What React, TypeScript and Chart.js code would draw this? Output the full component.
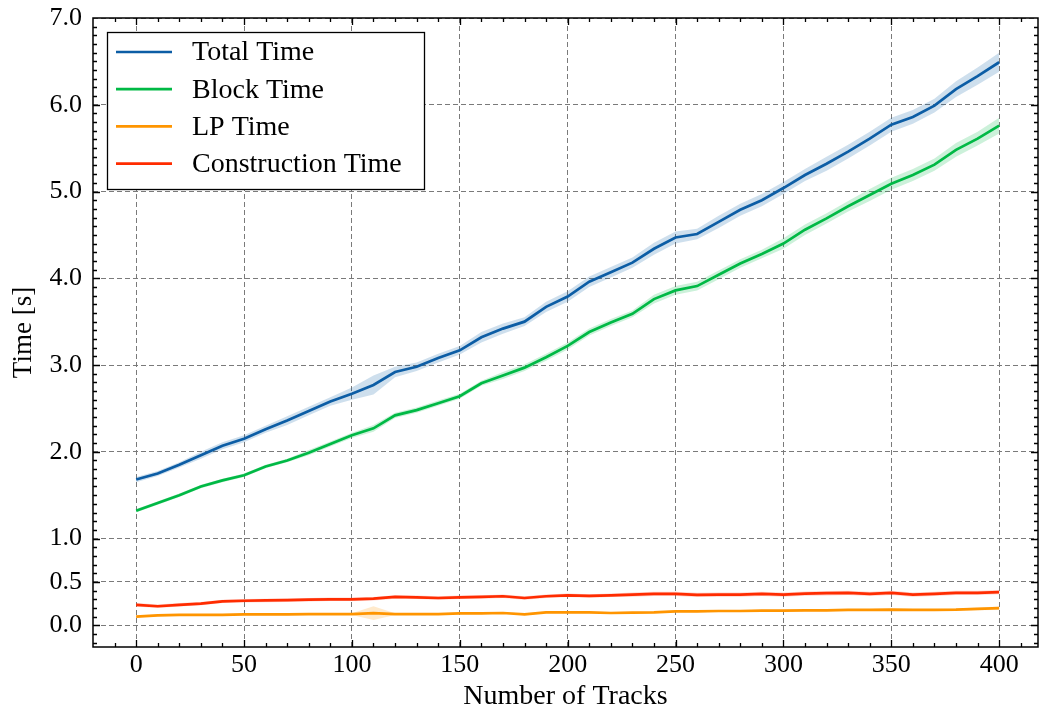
import React, { useEffect, useRef } from "react";
import { Chart, registerables } from "chart.js";

Chart.register(...registerables);

const tracks = [0, 10, 20, 30, 40, 50, 60, 70, 80, 90, 100, 110, 120, 130, 140, 150, 160, 170, 180, 190, 200, 210, 220, 230, 240, 250, 260, 270, 280, 290, 300, 310, 320, 330, 340, 350, 360, 370, 380, 390, 400];

const totalTime = [1.68, 1.75, 1.85, 1.96, 2.07, 2.15, 2.26, 2.36, 2.47, 2.58, 2.67, 2.77, 2.92, 2.98, 3.08, 3.17, 3.32, 3.42, 3.5, 3.67, 3.79, 3.96, 4.07, 4.18, 4.34, 4.47, 4.51, 4.65, 4.79, 4.9, 5.04, 5.19, 5.32, 5.46, 5.61, 5.77, 5.86, 5.99, 6.18, 6.33, 6.49];
const totalStd = [0.03, 0.03, 0.03, 0.04, 0.04, 0.04, 0.04, 0.05, 0.05, 0.05, 0.07, 0.11, 0.06, 0.05, 0.05, 0.05, 0.06, 0.06, 0.05, 0.06, 0.06, 0.06, 0.06, 0.06, 0.07, 0.07, 0.06, 0.07, 0.07, 0.07, 0.07, 0.07, 0.08, 0.08, 0.08, 0.08, 0.08, 0.08, 0.09, 0.1, 0.11];

const blockTime = [1.32, 1.41, 1.5, 1.6, 1.67, 1.73, 1.83, 1.9, 1.99, 2.09, 2.19, 2.27, 2.42, 2.48, 2.56, 2.64, 2.79, 2.88, 2.97, 3.09, 3.22, 3.38, 3.49, 3.59, 3.76, 3.86, 3.91, 4.04, 4.17, 4.28, 4.4, 4.56, 4.69, 4.83, 4.96, 5.09, 5.19, 5.31, 5.48, 5.61, 5.76];
const blockStd = [0.02, 0.02, 0.02, 0.02, 0.02, 0.02, 0.02, 0.02, 0.03, 0.03, 0.03, 0.04, 0.03, 0.03, 0.03, 0.03, 0.03, 0.04, 0.04, 0.04, 0.04, 0.04, 0.04, 0.04, 0.05, 0.05, 0.05, 0.05, 0.05, 0.05, 0.06, 0.06, 0.06, 0.06, 0.07, 0.07, 0.07, 0.07, 0.08, 0.08, 0.09];

const lpTime = [0.1, 0.115, 0.12, 0.12, 0.12, 0.125, 0.125, 0.125, 0.13, 0.13, 0.13, 0.14, 0.13, 0.13, 0.13, 0.138, 0.138, 0.142, 0.126, 0.15, 0.15, 0.15, 0.142, 0.146, 0.15, 0.16, 0.16, 0.165, 0.165, 0.169, 0.169, 0.173, 0.173, 0.177, 0.177, 0.181, 0.179, 0.179, 0.181, 0.189, 0.197];
const lpStd = [0.01, 0.01, 0.01, 0.01, 0.01, 0.01, 0.01, 0.01, 0.01, 0.01, 0.01, 0.08, 0.01, 0.01, 0.01, 0.01, 0.01, 0.01, 0.01, 0.01, 0.01, 0.01, 0.01, 0.01, 0.01, 0.01, 0.01, 0.01, 0.01, 0.01, 0.01, 0.01, 0.01, 0.01, 0.01, 0.01, 0.01, 0.01, 0.012, 0.015, 0.02];

const constructionTime = [0.236, 0.22, 0.236, 0.25, 0.276, 0.283, 0.287, 0.29, 0.295, 0.3, 0.3, 0.307, 0.327, 0.323, 0.315, 0.323, 0.327, 0.335, 0.315, 0.335, 0.346, 0.339, 0.346, 0.354, 0.362, 0.362, 0.35, 0.354, 0.354, 0.362, 0.354, 0.366, 0.37, 0.374, 0.362, 0.374, 0.354, 0.362, 0.374, 0.374, 0.382];
const constructionStd = [0.02, 0.02, 0.02, 0.02, 0.02, 0.02, 0.02, 0.02, 0.02, 0.02, 0.02, 0.02, 0.02, 0.02, 0.02, 0.02, 0.02, 0.02, 0.02, 0.02, 0.02, 0.02, 0.02, 0.025, 0.025, 0.025, 0.025, 0.025, 0.025, 0.025, 0.025, 0.025, 0.025, 0.025, 0.025, 0.025, 0.025, 0.025, 0.025, 0.025, 0.025];

const seriesNames = ["Total Time", "Block Time", "LP Time", "Construction Time"];
const seriesColors = ["#0C5DA5", "#00B945", "#FF9500", "#FF2C00"];
const bandColors = ["rgba(12,93,165,0.2)", "rgba(0,185,69,0.2)", "rgba(255,149,0,0.2)", "rgba(255,44,0,0.2)"];

const xTicks = [0, 50, 100, 150, 200, 250, 300, 350, 400];
const yTicks = [0, 0.5, 1, 2, 3, 4, 5, 6, 7];
const xMinorStep = 10;
const yMinorStep = 0.1;

const xTitle = "Number of Tracks";
const yTitle = "Time [s]";

const FONT = "'Liberation Serif', 'Times New Roman', serif";

const seriesValues = [totalTime, blockTime, lpTime, constructionTime];
const seriesStd = [totalStd, blockStd, lpStd, constructionStd];

const decorPlugin = {
  id: "decor",
  afterDraw(chart: any) {
    const { ctx, chartArea: a, scales } = chart;
    const xs = scales.x;
    const ys = scales.y;
    ctx.save();
    ctx.strokeStyle = "#000";
    ctx.lineWidth = 1.3;
    const majorLen = 7;
    const minorLen = 4;
    const isMajorX = (v: number) => xTicks.some((t) => Math.abs(t - v) < 1e-6);
    const isMajorY = (v: number) => yTicks.some((t) => Math.abs(t - v) < 1e-6);
    ctx.beginPath();
    for (let k = Math.ceil(xs.min / xMinorStep); k * xMinorStep <= xs.max; k++) {
      const v = k * xMinorStep;
      const px = Math.round(xs.getPixelForValue(v)) + 0.5;
      if (px <= a.left + 1 || px >= a.right - 1) continue;
      const len = isMajorX(v) ? majorLen : minorLen;
      ctx.moveTo(px, a.bottom);
      ctx.lineTo(px, a.bottom - len);
      ctx.moveTo(px, a.top);
      ctx.lineTo(px, a.top + len);
    }
    for (let k = Math.ceil(ys.min / yMinorStep - 1e-6); k * yMinorStep <= ys.max + 1e-6; k++) {
      const v = Math.round(k * yMinorStep * 10) / 10;
      const py = Math.round(ys.getPixelForValue(v)) + 0.5;
      if (py <= a.top + 1 || py >= a.bottom - 1) continue;
      const len = isMajorY(v) ? majorLen : minorLen;
      ctx.moveTo(a.left, py);
      ctx.lineTo(a.left + len, py);
      ctx.moveTo(a.right, py);
      ctx.lineTo(a.right - len, py);
    }
    ctx.stroke();
    ctx.lineWidth = 1.5;
    ctx.strokeRect(a.left, a.top, a.right - a.left, a.bottom - a.top);

    const lx = a.left + 14;
    const ly = a.top + 14;
    const lw = 317;
    const lh = 157;
    ctx.fillStyle = "#fff";
    ctx.fillRect(lx, ly, lw, lh);
    ctx.lineWidth = 1.3;
    ctx.strokeStyle = "#000";
    ctx.strokeRect(lx + 0.5, ly + 0.5, lw, lh);
    ctx.font = `28px ${FONT}`;
    ctx.textBaseline = "middle";
    ctx.textAlign = "left";
    seriesNames.forEach((name, i) => {
      const ry = ly + 20 + i * 37.2;
      ctx.strokeStyle = seriesColors[i];
      ctx.lineWidth = 2.7;
      ctx.beginPath();
      ctx.moveTo(lx + 9, ry);
      ctx.lineTo(lx + 65, ry);
      ctx.stroke();
      ctx.fillStyle = "#000";
      ctx.fillText(name, lx + 85, ry + 1);
    });
    ctx.restore();
  },
};

export default function App() {
  const canvasRef = useRef<HTMLCanvasElement | null>(null);

  useEffect(() => {
    const canvas = canvasRef.current;
    if (!canvas) return;

    const datasets: any[] = [];
    seriesNames.forEach((name, i) => {
      const vals = seriesValues[i];
      datasets.push({
        label: name,
        data: tracks.map((x, j) => ({ x, y: vals[j] })),
        borderColor: seriesColors[i],
        backgroundColor: seriesColors[i],
        borderWidth: 2.7,
        pointRadius: 0,
        tension: 0,
        fill: false,
        order: 0,
      });
    });
    seriesNames.forEach((name, i) => {
      const vals = seriesValues[i];
      const sd = seriesStd[i];
      datasets.push({
        label: "_upper_" + name,
        data: tracks.map((x, j) => ({ x, y: vals[j] + sd[j] })),
        borderWidth: 0,
        borderColor: "rgba(0,0,0,0)",
        pointRadius: 0,
        fill: false,
        order: 10,
      });
      datasets.push({
        label: "_lower_" + name,
        data: tracks.map((x, j) => ({ x, y: vals[j] - sd[j] })),
        borderWidth: 0,
        borderColor: "rgba(0,0,0,0)",
        backgroundColor: bandColors[i],
        pointRadius: 0,
        fill: "-1",
        order: 10,
      });
    });

    const gridOpts = {
      color: "#7a7a7a",
      lineWidth: 1,
      drawTicks: false,
    };

    const chart = new Chart(canvas, {
      type: "line",
      data: { datasets },
      plugins: [decorPlugin],
      options: {
        responsive: false,
        animation: false,
        devicePixelRatio: 1,
        layout: { padding: { left: 0, right: 2, top: 18, bottom: 0 } },
        plugins: {
          legend: { display: false },
          tooltip: { enabled: false },
          filler: { propagate: false },
        },
        scales: {
          x: {
            type: "linear",
            min: -20,
            max: 418,
            afterBuildTicks: (scale: any) => {
              scale.ticks = xTicks.map((v) => ({ value: v }));
            },
            afterFit: (scale: any) => {
              scale.height = 68;
              scale.paddingLeft = 0;
              scale.paddingRight = 0;
            },
            grid: gridOpts,
            border: { display: false, dash: [5, 3] },
            ticks: {
              color: "#000",
              font: { family: FONT, size: 26 },
              padding: 3,
              maxRotation: 0,
              autoSkip: false,
              callback: (v: any) => String(v),
            },
            title: {
              display: true,
              text: xTitle,
              color: "#000",
              font: { family: FONT, size: 28 },
              padding: { top: 0, bottom: 2 },
            },
          },
          y: {
            type: "linear",
            min: -0.25,
            max: 7,
            afterBuildTicks: (scale: any) => {
              scale.ticks = yTicks.map((v) => ({ value: v }));
            },
            afterFit: (scale: any) => {
              scale.width = 93;
              scale.paddingTop = 0;
              scale.paddingBottom = 0;
            },
            grid: gridOpts,
            border: { display: false, dash: [5, 3] },
            ticks: {
              color: "#000",
              font: { family: FONT, size: 26 },
              padding: 11,
              autoSkip: false,
              callback: (v: any) => Number(v).toFixed(1),
            },
            title: {
              display: true,
              text: yTitle,
              color: "#000",
              font: { family: FONT, size: 27 },
              padding: { top: 8, bottom: 0 },
            },
          },
        },
      } as any,
    });

    return () => {
      chart.destroy();
    };
  }, []);

  return (
    <div style={{ position: "fixed", left: 0, top: 0, width: 1040, height: 715, background: "#fff" }}>
      <canvas ref={canvasRef} width={1040} height={715} />
    </div>
  );
}
